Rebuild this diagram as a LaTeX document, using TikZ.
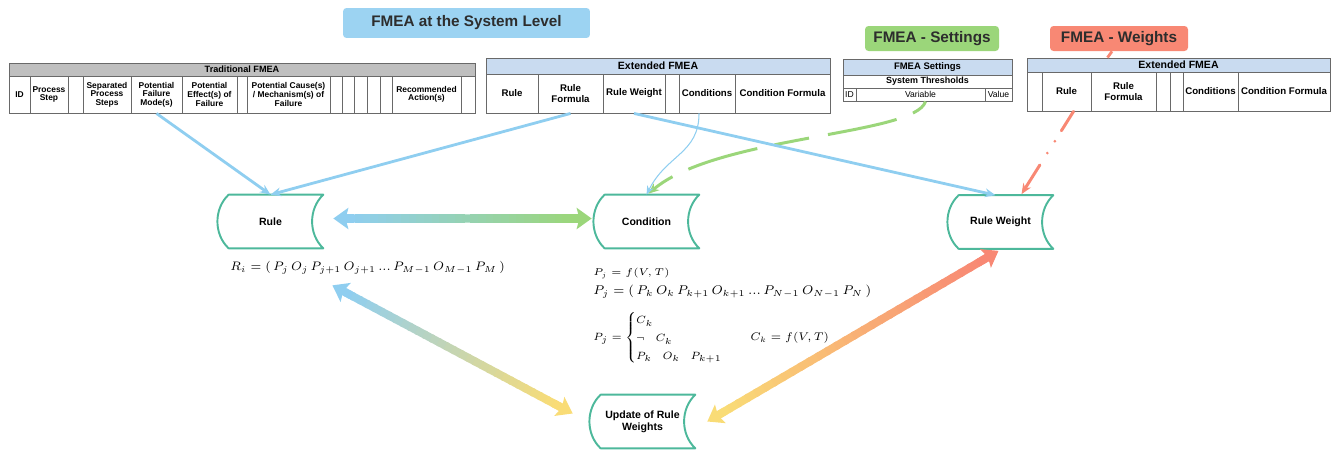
\RequirePackage{fix-cm}
\documentclass[tikz,border=0pt]{standalone}
\usepackage{amsmath}
\usepackage{amssymb}
\usepackage{fontspec}
\setsansfont{Liberation Sans}
\usepackage{tikz}
\usetikzlibrary{calc,arrows.meta}
\definecolor{titleblue}{RGB}{156, 211, 242}
\definecolor{fmblue}{RGB}{143, 206, 240}
\definecolor{fmgreen}{RGB}{155, 214, 122}
\definecolor{fmyellow}{RGB}{249, 220, 118}
\definecolor{fmsalmon}{RGB}{248, 136, 116}
\definecolor{storeteal}{RGB}{77, 184, 155}
\definecolor{headgray}{RGB}{191, 191, 191}
\definecolor{headblue}{RGB}{201, 219, 240}
\definecolor{linegray}{RGB}{105, 105, 105}
\definecolor{textdark}{RGB}{45, 45, 45}

\begin{document}
\begin{tikzpicture}[x=0.02cm, y=-0.02cm,
    tcell/.style={draw=linegray, line width=0.5pt, inner sep=0pt, align=center, font=\sffamily\bfseries\fontsize{4.8}{4.9}\selectfont},
    ecell/.style={tcell, font=\sffamily\bfseries\fontsize{5.5}{5.8}\selectfont},
    scell/.style={tcell, font=\sffamily\fontsize{4.9}{5}\selectfont},
    titlebox/.style={rounded corners=2pt, inner sep=0pt, text=textdark, font=\sffamily\bfseries\fontsize{8.7}{10}\selectfont},
    store/.style={minimum width=2.1cm, minimum height=1.06cm, inner sep=0pt, align=center, font=\sffamily\bfseries\fontsize{6}{7}\selectfont},
    storeline/.style={draw=storeteal, line width=1.1pt, line join=round},
    blueline/.style={draw=fmblue, line width=1.6pt, -{Stealth[length=6pt,width=5pt]}},
    thinblue/.style={draw=fmblue, line width=0.6pt, -{Stealth[length=5pt,width=4pt]}},
    greendash/.style={draw=fmgreen, line width=1.7pt, dash pattern=on 10pt off 10pt on 40pt off 11pt on 20pt off 10pt on 41pt off 10pt on 40pt, -{Stealth[length=6pt,width=5pt]}},
    reddash/.style={draw=fmsalmon, line width=1.7pt, line cap=round, dash pattern=on 13pt off 7pt on 0pt off 8pt on 0pt off 8pt on 40pt, -{Stealth[length=6pt,width=5pt]}},
    gradshaft/.style={line width=4.6pt},
    gradtip/.style={line width=4.6pt, -{Stealth[length=8.5pt,width=12pt,inset=1.5pt]}},
    formula/.style={inner sep=0pt, anchor=west}]
\useasboundingbox (0,0) rectangle (1337,450);

% headings
\node[titlebox, fill=titleblue, minimum width=4.94cm, minimum height=0.6cm] (title) at (466.5,23) {FMEA at the System Level};
\node[titlebox, fill=fmgreen, minimum width=2.68cm, minimum height=0.5cm] (sbox) at (932,38.5) {FMEA - Settings};
\node[titlebox, fill=fmsalmon, minimum width=2.76cm, minimum height=0.5cm] (wbox) at (1119,38.5) {FMEA - Weights};

% traditional FMEA
\node[tcell, fill=headgray, font=\sffamily\bfseries\fontsize{5.2}{5.5}\selectfont, minimum width=9.32cm, minimum height=0.26cm] (th) at (242,69.5) {Traditional FMEA};
\foreach \l/\r/\t [count=\i] in {9/30/ID, 30/68/{Process\\Step}, 68/83/{}, 83/131/{Separated\\Process\\Steps},
    131/182/{Potential\\Failure\\Mode(s)}, 182/237/{Potential\\Effect(s) of\\Failure}, 237/247/{},
    247/330/{Potential Cause(s)\\/ Mechanism(s) of\\Failure}, 330/342/{}, 342/354/{}, 354/367/{}, 367/380/{},
    380/392/{}, 392/461/{Recommended\\Action(s)}, 461/475/{}}
  \node[tcell, fill=white, minimum width={(\r-\l)*0.02cm}, minimum height=0.74cm] (tc\i) at ({(\l+\r)/2},94.5) {\t};

% extended FMEA
\node[ecell, fill=headblue, font=\sffamily\bfseries\fontsize{6}{6.5}\selectfont, minimum width=6.88cm, minimum height=0.32cm] (eh) at (658,66) {Extended FMEA};
\foreach \l/\r/\t [count=\i] in {486/538/Rule, 538/603/{Rule\\Formula}, 603/665/{Rule Weight}, 665/679/{},
    679/735/Conditions, 735/830/{Condition Formula}}
  \node[ecell, fill=white, minimum width={(\r-\l)*0.02cm}, minimum height=0.78cm] (ec\i) at ({(\l+\r)/2},93.5) {\t};

% settings
\node[ecell, fill=headblue, font=\sffamily\bfseries\fontsize{5.4}{5.8}\selectfont, minimum width=3.38cm, minimum height=0.32cm] (sh) at (927.5,67) {FMEA Settings};
\node[tcell, fill=white, font=\sffamily\bfseries\fontsize{5.1}{5.5}\selectfont, minimum width=3.38cm, minimum height=0.26cm] (sst) at (927.5,81.5) {System Thresholds};
\foreach \l/\r/\t [count=\i] in {843/856/ID, 856/985/Variable, 985/1012/Value}
  \node[scell, fill=white, minimum width={(\r-\l)*0.02cm}, minimum height=0.26cm] (sc\i) at ({(\l+\r)/2},94.5) {\t};

% extended FMEA, weights
\node[ecell, fill=headblue, font=\sffamily\bfseries\fontsize{6}{6.5}\selectfont, minimum width=6.06cm, minimum height=0.28cm] (wh) at (1178.5,65) {Extended FMEA};
\foreach \l/\r/\t [count=\i] in {1027/1042/{}, 1042/1091/Rule, 1091/1156/{Rule\\Formula}, 1156/1170/{},
    1170/1183/{}, 1183/1238/Conditions, 1238/1330/{Condition Formula}}
  \node[ecell, fill=white, minimum width={(\r-\l)*0.02cm}, minimum height=0.78cm] (wc\i) at ({(\l+\r)/2},91.5) {\t};

% stored data nodes
\node[store] (rule) at (270.5,221.5) {Rule};
\node[store] (cond) at (646.5,221.5) {Condition};
\node[store] (rw) at (1000.5,222) {Rule Weight};
\node[store] (upd) at (642.5,421.5) {Update of Rule\\Weights};
\foreach \n in {rule,cond,rw,upd}
  \draw[storeline] ($(\n.north west)+(11,0)$) -- (\n.north east)
    .. controls +(-15,14) and +(-15,-14) .. (\n.south east)
    -- ($(\n.south west)+(11,0)$)
    .. controls +(-15,-14) and +(-15,14) .. ($(\n.north west)+(11,0)$) -- cycle;

% formulas
\node[formula, font=\fontsize{7}{9}\selectfont] (rform) at (230,268)
  {$R_i = (\, P_j\, O_j\, P_{j+1}\, O_{j+1}\, ...\, P_{M-1}\, O_{M-1}\, P_M\, )$};
\node[formula, font=\fontsize{5.6}{7}\selectfont] (pform1) at (593,273) {$P_j = f(V,T)$};
\node[formula, font=\fontsize{7.2}{9}\selectfont] (pform2) at (593,292)
  {$P_j = (\, P_k\, O_k\, P_{k+1}\, O_{k+1}\, ...\, P_{N-1}\, O_{N-1}\, P_N\, )$};
\node[formula, font=\fontsize{6}{8.5}\selectfont] (pcases) at (593,338)
  {$P_j = \begin{cases} C_k \\ \neg\quad C_k \\ P_k\quad O_k\quad P_{k+1} \end{cases}$};
\node[formula, font=\fontsize{6.3}{8}\selectfont] (cform) at (750,338) {$C_k = f(V,T)$};

% connectors
\draw[draw=fmsalmon, line width=1.6pt] ($(wbox.south)+(-7,0)$) -- ($(wh.north)+(-71,0)$);
\draw[greendash] ($(sc2.south)+(5,0)$) .. controls +(-10,34) and +(68,-58) .. ($(cond.north)+(2,-1)$);
\draw[blueline] (tc5.south) -- (rule.north);
\draw[blueline] (ec2.south) -- (rule.north);
\draw[blueline] (ec3.south) -- ($(rw.north)+(-5,0)$);
\draw[thinblue] ($(ec5.south)+(-8,0)$) .. controls +(0,40) and +(20,-40) .. (cond.north);
\draw[reddash] ($(wc2.south)+(7,0)$) -- ($(rw.north)+(21,-1)$);

% gradient double arrows
\coordinate (rg1) at ($(rule.east)+(10,-3)$);
\coordinate (rg2) at ($(cond.west)+(-2,-3)$);
\coordinate (ru1) at ($(rule.south east)+(9,37)$);
\coordinate (ru2) at ($(upd.west)+(-17,-8)$);
\coordinate (uw1) at ($(upd.east)+(12,0)$);
\coordinate (uw2) at ($(rw.south)+(-2,2)$);
\foreach \sa/\sb/\ca/\cb in {rg1/rg2/fmblue/fmgreen, ru1/ru2/fmblue/fmyellow, uw1/uw2/fmyellow/fmsalmon} {
  \coordinate (gs) at ($(\sa)!8pt!(\sb)$);
  \coordinate (ge) at ($(\sb)!8pt!(\sa)$);
  \foreach \i in {0,...,29} {
    \pgfmathtruncatemacro{\pct}{100-\i*100/29}
    \draw[gradshaft, color=\ca!\pct!\cb] ($(gs)!{\i/30}!(ge)$) -- ($(gs)!{(\i+1.3)/30}!(ge)$);
  }
  \draw[gradtip, color=\ca] ($(\sa)!12pt!(\sb)$) -- (\sa);
  \draw[gradtip, color=\cb] ($(\sb)!12pt!(\sa)$) -- (\sb);
}
\end{tikzpicture}
\end{document}
